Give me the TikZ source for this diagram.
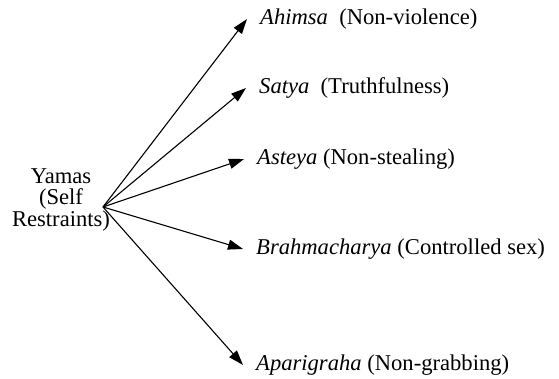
\documentclass[tikz,border=0pt]{standalone}
\usepackage{fontspec}
\setmainfont{Liberation Serif}
\usetikzlibrary{arrows.meta}
\begin{document}
\begin{tikzpicture}[x=1pt,y=-1pt,
  lbl/.style={anchor=west,inner xsep=13pt,inner ysep=0pt,font=\fontsize{22.6}{22}\selectfont},
  arr/.style={line width=1.1pt,-{Triangle[length=15pt,width=10pt]}}]
\useasboundingbox (0,0) rectangle (559,379);
\node[align=center,inner sep=0pt,font=\fontsize{22.6}{21.5}\selectfont] (y) at (61,200) {Yamas\\(Self\\Restraints)};
\coordinate (o) at (103,207);
\node[lbl] (a) at (247,19) {\textit{Ahimsa}\ \ (Non-violence)};
\node[lbl] (b) at (246,88) {\textit{Satya}\ \ (Truthfulness)};
\node[lbl] (c) at (244,159) {\textit{Asteya} (Non-stealing)};
\node[lbl] (d) at (243,249) {\textit{Brahmacharya} (Controlled sex)};
\node[lbl] (e) at (243,365) {\textit{Aparigraha} (Non-grabbing)};
\foreach \n in {a,b,c,d,e} \draw[arr] (o) -- (\n.west);
\end{tikzpicture}
\end{document}
